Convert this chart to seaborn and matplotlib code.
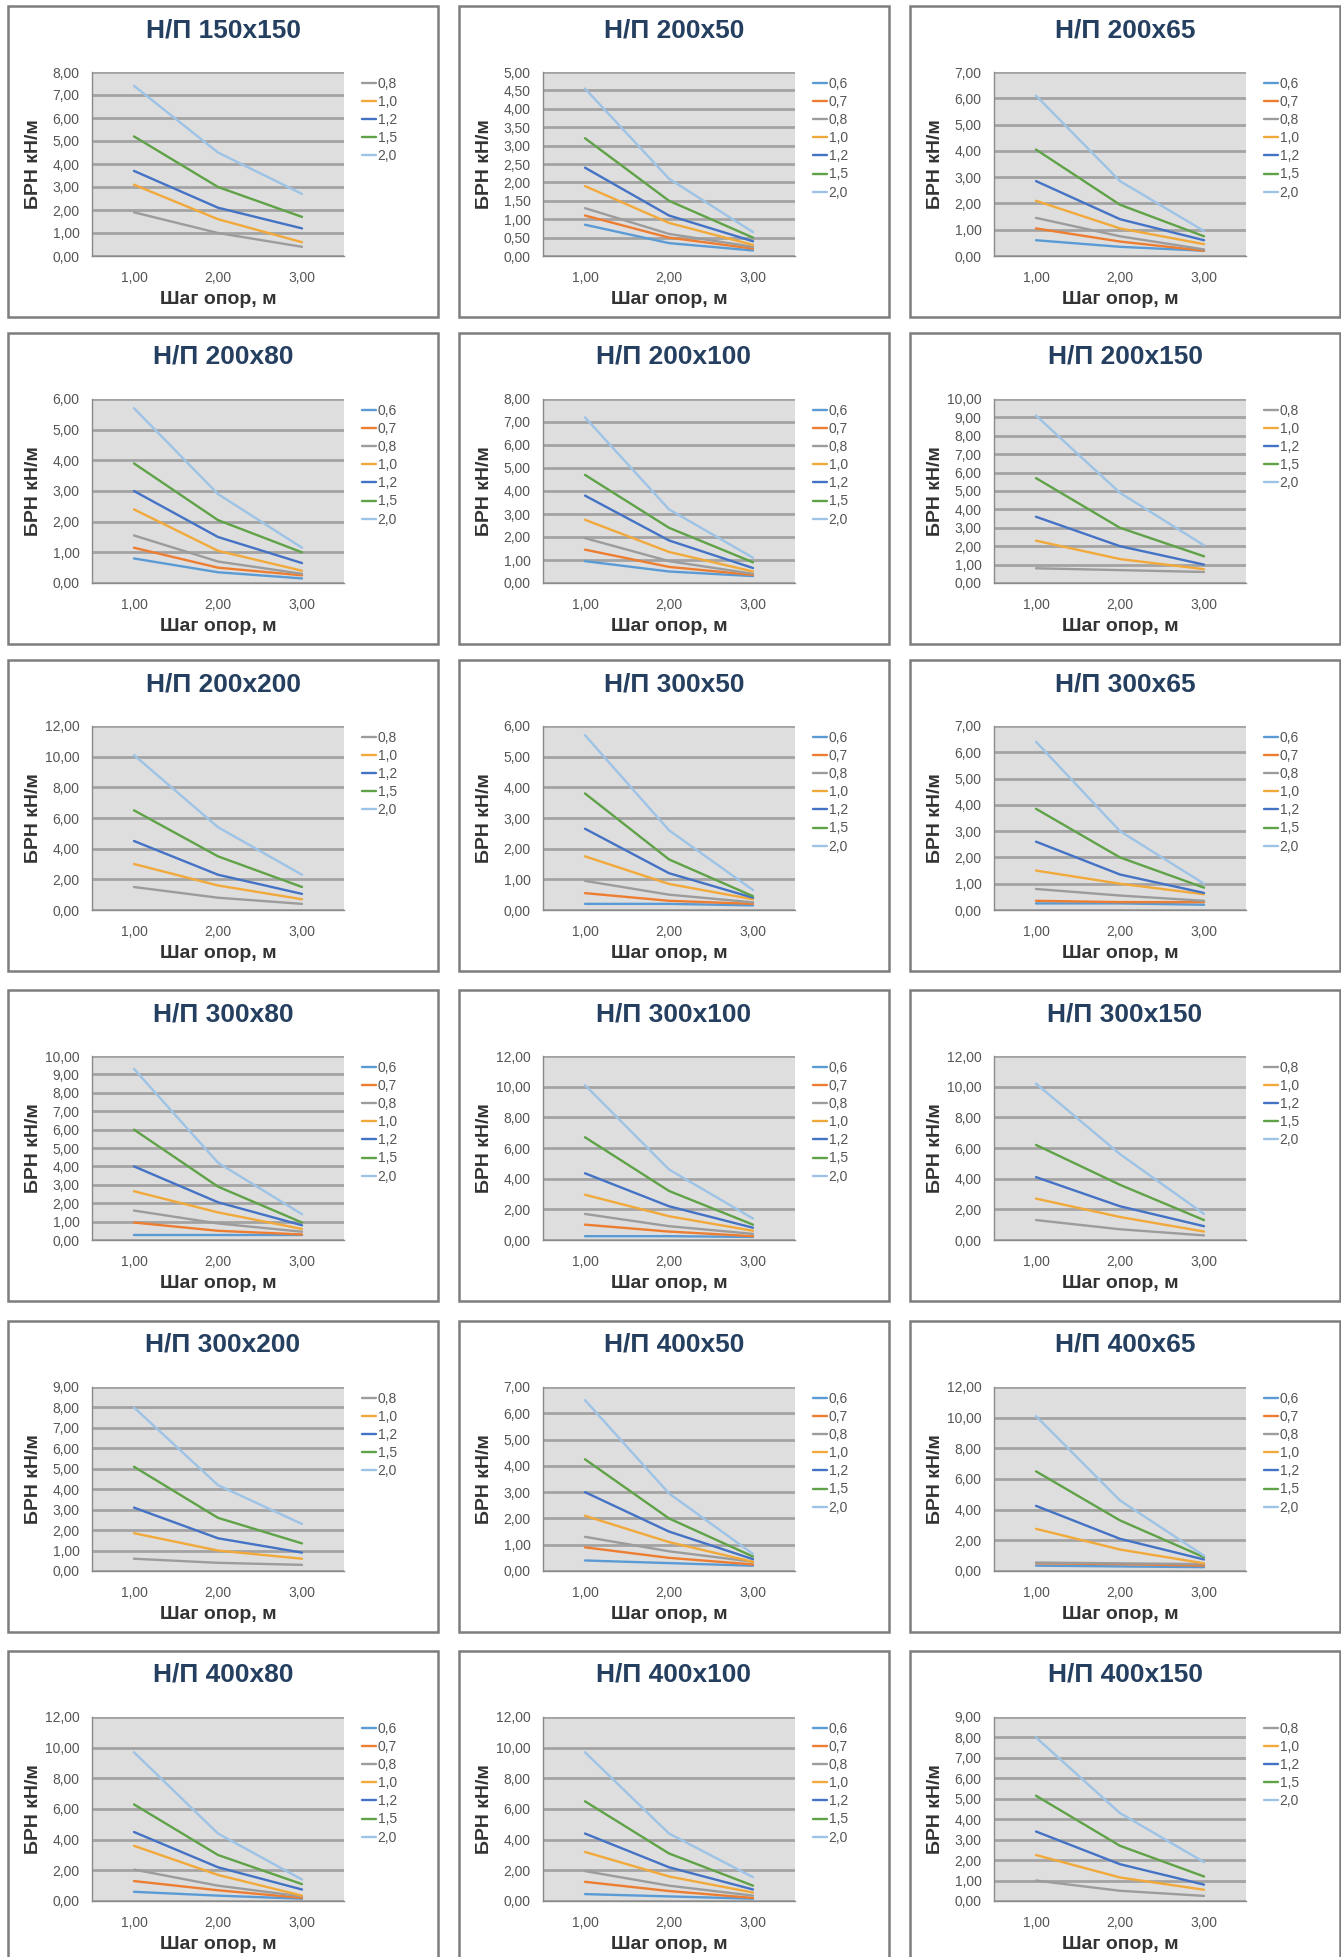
import numpy as np
import pandas as pd
import matplotlib
matplotlib.use("Agg")
import matplotlib.pyplot as plt
from matplotlib.patches import Rectangle
from matplotlib.ticker import FixedLocator, MultipleLocator, FuncFormatter
import seaborn as sns

# --- data (values at step 1, 2, 3 m) ---
steps = [1.0, 2.0, 3.0]

titles = ["Н/П 150x150", "Н/П 200x50", "Н/П 200x65",
          "Н/П 200x80", "Н/П 200x100", "Н/П 200x150",
          "Н/П 200x200", "Н/П 300x50", "Н/П 300x65",
          "Н/П 300x80", "Н/П 300x100", "Н/П 300x150",
          "Н/П 300x200", "Н/П 400x50", "Н/П 400x65",
          "Н/П 400x80", "Н/П 400x100", "Н/П 400x150"]
y_max = [8, 5, 7, 6, 8, 10, 12, 6, 7, 10, 12, 12, 9, 7, 12, 12, 12, 9]
y_step = [1, 0.5, 1, 1, 1, 1, 2, 1, 1, 1, 2, 2, 1, 1, 2, 2, 2, 1]

np150x150 = {"0,8": [1.9, 1.0, 0.4], "1,0": [3.1, 1.6, 0.6], "1,2": [3.7, 2.1, 1.2],
             "1,5": [5.2, 3.0, 1.7], "2,0": [7.4, 4.5, 2.7]}
np200x50 = {"0,6": [0.85, 0.35, 0.15], "0,7": [1.1, 0.5, 0.2], "0,8": [1.3, 0.6, 0.25],
            "1,0": [1.9, 0.9, 0.3], "1,2": [2.4, 1.1, 0.4], "1,5": [3.2, 1.5, 0.5],
            "2,0": [4.55, 2.1, 0.65]}
np200x65 = {"0,6": [0.6, 0.35, 0.2], "0,7": [1.05, 0.55, 0.2], "0,8": [1.45, 0.75, 0.25],
            "1,0": [2.1, 1.05, 0.45], "1,2": [2.85, 1.4, 0.6], "1,5": [4.05, 1.95, 0.75],
            "2,0": [6.1, 2.85, 0.95]}
np200x80 = {"0,6": [0.8, 0.35, 0.15], "0,7": [1.15, 0.5, 0.25], "0,8": [1.55, 0.7, 0.3],
            "1,0": [2.4, 1.05, 0.4], "1,2": [3.0, 1.5, 0.65], "1,5": [3.9, 2.05, 1.0],
            "2,0": [5.7, 2.9, 1.15]}
np200x100 = {"0,6": [0.95, 0.5, 0.3], "0,7": [1.45, 0.7, 0.35], "0,8": [1.95, 0.95, 0.4],
             "1,0": [2.75, 1.35, 0.5], "1,2": [3.8, 1.85, 0.65], "1,5": [4.7, 2.4, 0.9],
             "2,0": [7.2, 3.2, 1.1]}
np200x150 = {"0,8": [0.8, 0.7, 0.6], "1,0": [2.3, 1.3, 0.75], "1,2": [3.6, 2.0, 1.0],
             "1,5": [5.7, 3.0, 1.45], "2,0": [9.1, 4.9, 2.05]}
np200x200 = {"0,8": [1.5, 0.8, 0.4], "1,0": [3.0, 1.6, 0.7], "1,2": [4.5, 2.3, 1.05],
             "1,5": [6.5, 3.5, 1.5], "2,0": [10.1, 5.4, 2.3]}
np300x50 = {"0,6": [0.2, 0.2, 0.15], "0,7": [0.55, 0.3, 0.2], "0,8": [0.95, 0.5, 0.25],
            "1,0": [1.75, 0.85, 0.35], "1,2": [2.65, 1.2, 0.4], "1,5": [3.8, 1.65, 0.45],
            "2,0": [5.7, 2.6, 0.65]}
np300x65 = {"0,6": [0.25, 0.25, 0.2], "0,7": [0.35, 0.3, 0.3], "0,8": [0.8, 0.55, 0.35],
            "1,0": [1.5, 1.0, 0.6], "1,2": [2.6, 1.35, 0.65], "1,5": [3.85, 2.0, 0.85],
            "2,0": [6.4, 3.0, 1.0]}
np300x80 = {"0,6": [0.25, 0.25, 0.25], "0,7": [0.95, 0.5, 0.3], "0,8": [1.6, 0.9, 0.45],
            "1,0": [2.65, 1.5, 0.6], "1,2": [4.0, 2.05, 0.8], "1,5": [6.0, 2.9, 0.95],
            "2,0": [9.3, 4.2, 1.4]}
np300x100 = {"0,6": [0.25, 0.25, 0.2], "0,7": [1.0, 0.55, 0.25], "0,8": [1.7, 0.9, 0.4],
             "1,0": [2.95, 1.55, 0.6], "1,2": [4.35, 2.2, 0.8], "1,5": [6.7, 3.2, 1.0],
             "2,0": [10.1, 4.6, 1.4]}
np300x150 = {"0,8": [1.3, 0.7, 0.3], "1,0": [2.7, 1.5, 0.55], "1,2": [4.1, 2.2, 0.9],
             "1,5": [6.2, 3.6, 1.3], "2,0": [10.2, 5.6, 1.7]}
np300x200 = {"0,8": [0.6, 0.4, 0.3], "1,0": [1.85, 1.0, 0.6], "1,2": [3.1, 1.6, 0.9],
             "1,5": [5.1, 2.6, 1.35], "2,0": [8.0, 4.2, 2.3]}
np400x50 = {"0,6": [0.4, 0.3, 0.2], "0,7": [0.9, 0.5, 0.25], "0,8": [1.3, 0.75, 0.35],
            "1,0": [2.1, 1.1, 0.35], "1,2": [3.0, 1.5, 0.45], "1,5": [4.25, 2.0, 0.55],
            "2,0": [6.5, 2.95, 0.65]}
np400x65 = {"0,6": [0.35, 0.3, 0.25], "0,7": [0.5, 0.45, 0.35], "0,8": [0.55, 0.5, 0.45],
            "1,0": [2.75, 1.4, 0.5], "1,2": [4.25, 2.1, 0.75], "1,5": [6.5, 3.3, 0.9],
            "2,0": [10.1, 4.6, 1.0]}
np400x80 = {"0,6": [0.6, 0.35, 0.15], "0,7": [1.3, 0.7, 0.2], "0,8": [2.05, 1.0, 0.3],
            "1,0": [3.6, 1.7, 0.35], "1,2": [4.5, 2.2, 0.75], "1,5": [6.3, 3.0, 1.1],
            "2,0": [9.7, 4.4, 1.4]}
np400x100 = {"0,6": [0.45, 0.3, 0.15], "0,7": [1.25, 0.65, 0.2], "0,8": [1.95, 1.0, 0.35],
             "1,0": [3.2, 1.6, 0.55], "1,2": [4.4, 2.2, 0.75], "1,5": [6.5, 3.1, 1.0],
             "2,0": [9.7, 4.4, 1.55]}
np400x150 = {"0,8": [1.0, 0.5, 0.25], "1,0": [2.25, 1.15, 0.55], "1,2": [3.4, 1.8, 0.8],
             "1,5": [5.15, 2.7, 1.2], "2,0": [8.0, 4.3, 1.9]}

panels = [np150x150, np200x50, np200x65, np200x80, np200x100, np200x150,
          np200x200, np300x50, np300x65, np300x80, np300x100, np300x150,
          np300x200, np400x50, np400x65, np400x80, np400x100, np400x150]

series_colors = {"0,6": "#5B9BD5", "0,7": "#ED7D31", "0,8": "#9C9C9C", "1,0": "#F2A93B",
                 "1,2": "#4472C4", "1,5": "#5FA247", "2,0": "#9DC3E6"}

# --- style ---
sns.set_style("white")
plt.rcParams["font.family"] = ["Liberation Sans", "DejaVu Sans"]

W, H = 1341, 1957
fig = plt.figure(figsize=(W / 100, H / 100), dpi=100)
fig.patch.set_facecolor("white")

col_left = [8, 459, 910]
row_top = [6, 333, 660, 990, 1321, 1651]
BOX_W, BOX_H = 430, 311
comma = FuncFormatter(lambda v, p: f"{v:.2f}".replace(".", ","))

for i, title in enumerate(titles):
    r, c = divmod(i, 3)
    bx, by = col_left[c], row_top[r]
    fig.patches.append(Rectangle((bx / W, 1 - (by + BOX_H) / H), BOX_W / W, BOX_H / H,
                                 transform=fig.transFigure, fill=False,
                                 edgecolor="#7d7d7d", lw=1.8))
    fig.text((bx + 215) / W, 1 - (by + 24) / H, title, ha="center", va="center",
             fontsize=19, fontweight="bold", color="#243F60")

    ax = fig.add_axes([(bx + 84) / W, 1 - (by + 66 + 184) / H, 252 / W, 184 / H])
    data = panels[i]
    df = pd.DataFrame([(s, k, v) for k, vals in data.items() for s, v in zip(steps, vals)],
                      columns=["step", "k", "brn"])
    sns.lineplot(data=df, x="step", y="brn", hue="k", hue_order=list(data.keys()),
                 palette=series_colors, lw=1.7, ax=ax)

    ax.set_facecolor("#DEDEDE")
    ax.set_xlim(0.5, 3.5)
    ax.set_ylim(0, y_max[i])
    ax.xaxis.set_major_locator(FixedLocator([1, 2, 3]))
    ax.xaxis.set_minor_locator(FixedLocator([0.5, 1.5, 2.5, 3.5]))
    ax.yaxis.set_major_locator(MultipleLocator(y_step[i]))
    ax.yaxis.set_minor_locator(MultipleLocator(y_step[i] / 5))
    ax.xaxis.set_major_formatter(comma)
    ax.yaxis.set_major_formatter(comma)
    ax.grid(axis="y", which="major", color="#A3A3A3", lw=2.0)
    ax.set_axisbelow(True)
    for s in ["top", "right"]:
        ax.spines[s].set_visible(False)
    for s in ["left", "bottom"]:
        ax.spines[s].set_color("#8a8a8a")
        ax.spines[s].set_linewidth(1)
    ax.tick_params(axis="both", which="both", direction="out", color="#8a8a8a",
                   labelsize=10, labelcolor="#555555")
    ax.tick_params(axis="x", which="both", length=6, pad=5)
    ax.tick_params(axis="y", which="major", length=4, pad=5)
    ax.tick_params(axis="y", which="minor", length=2)

    ax.set_xlabel("Шаг опор, м", fontsize=14, fontweight="bold", color="#333333")
    ax.set_ylabel("БРН кН/м", fontsize=14, fontweight="bold", color="#333333")
    ax.xaxis.set_label_coords(0.5, -0.19)
    ax.yaxis.set_label_coords(-0.2, 0.5)

    ax.legend(loc="upper left", bbox_to_anchor=(1.07, 0.975), frameon=False,
              fontsize=10, handlelength=1.0, handletextpad=0.15, labelspacing=0.3,
              borderpad=0, borderaxespad=0, labelcolor="#555555")

fig.savefig("out.png", dpi=100, facecolor="white")
